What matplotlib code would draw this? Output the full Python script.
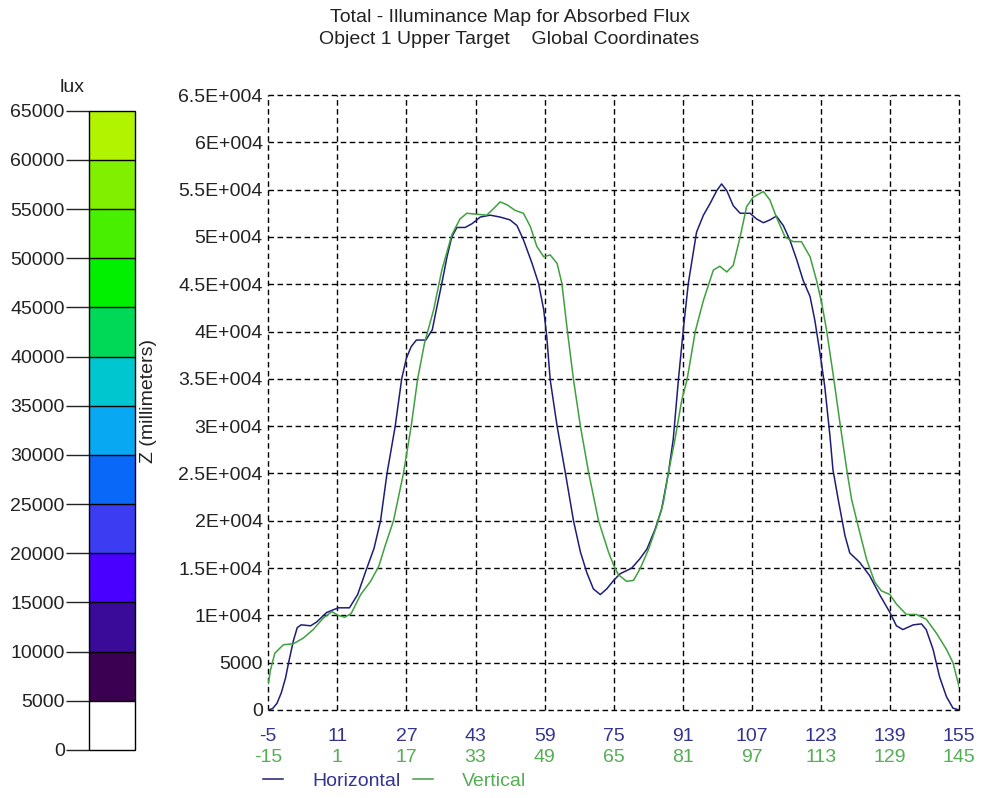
import numpy as np
import matplotlib
matplotlib.use("Agg")
import matplotlib.pyplot as plt
import matplotlib.ticker as mtick
from matplotlib.colors import ListedColormap, BoundaryNorm
from matplotlib.cm import ScalarMappable

plt.rcParams["font.family"] = ["Liberation Sans", "DejaVu Sans"]
plt.rcParams["axes.unicode_minus"] = False

# --- data --------------------------------------------------------------
# Horizontal profile (x in horizontal-axis coordinates, lux)
h_x = [-5, -4, -3, -2, -1, -0.3, 0.8, 1.7, 2.6, 4.8,
       6.2, 8.5, 11.2, 13.8, 15.7, 17.6, 19.5, 21.0, 22.5, 24.4,
       25.9, 27.0, 28.1, 29.3, 31.5, 33.0, 33.6, 35.2, 36.4, 37.5,
       38.7, 40.6, 42.2, 44.1, 46.4, 48.7, 51.0, 52.6, 54.1, 56.1,
       57.6, 58.8, 59.5, 60.3, 61.9, 63.8, 65.7, 67.3, 68.8, 70.3,
       71.9, 73.4, 75.0, 76.5, 79.2, 81.1, 82.7, 84.6, 86.1, 87.7,
       88.8, 90.0, 91.2, 92.3, 94.2, 95.8, 97.3, 98.9, 100.0, 101.2,
       102.7, 104.3, 106.6, 108.1, 109.7, 111.2, 112.7, 114.3, 115.8, 117.4,
       118.9, 120.5, 121.6, 122.8, 123.9, 125.1, 125.8, 127.0, 128.6, 129.7,
       132.0, 134.3, 136.6, 139.0, 140.5, 142.0, 144.4, 146.3, 147.4, 149.0,
       150.5, 152.1, 153.6, 155]
h_lux = [0, 150, 700, 1800, 3400, 5000, 7300, 8700, 9000, 8900,
         9300, 10300, 10800, 10800, 12200, 14700, 17100, 20000, 25000, 30000,
         35000, 37200, 38400, 39100, 39100, 40200, 41600, 45100, 47900, 50000,
         51000, 51000, 51400, 52100, 52300, 52100, 51800, 51200, 49700, 47200,
         45100, 42300, 39500, 34900, 30000, 25100, 20000, 16700, 14500, 12800,
         12200, 12800, 13700, 14400, 15000, 16000, 17000, 19100, 21200, 25100,
         28600, 34900, 40500, 45100, 50500, 52300, 53500, 54900, 55600, 54900,
         53300, 52500, 52500, 51900, 51500, 51800, 52200, 51200, 49700, 47600,
         45400, 43700, 41200, 37700, 34200, 29000, 25400, 22300, 18400, 16600,
         15600, 14200, 12200, 10300, 8900, 8500, 9000, 9100, 8500, 6400,
         3500, 1400, 200, 0]

# Vertical profile (x in vertical-axis coordinates, lux)
v_x = [-15, -14.5, -13.5, -11.5, -9.2, -6.9, -4.6, -2.3, -0.3, 1.2,
       2.7, 4.2, 6.4, 8.7, 10.6, 12.1, 14.0, 16.3, 18.1, 19.6,
       21.2, 23.3, 25.2, 27.5, 29.4, 31.0, 33.3, 35.6, 37.2, 38.7,
       40.3, 42.2, 44.1, 45.7, 47.2, 48.8, 50.3, 51.9, 53.0, 54.3,
       55.7, 57.3, 59.2, 61.5, 63.8, 65.0, 66.1, 68.0, 69.6, 71.1,
       73.1, 75.0, 76.5, 77.7, 79.2, 80.8, 82.0, 83.9, 85.8, 88.1,
       89.6, 91.2, 92.7, 94.3, 95.8, 97.3, 99.7, 101.2, 102.7, 104.7,
       106.6, 108.5, 110.5, 112.0, 113.2, 114.3, 115.9, 117.4, 119.0, 120.1,
       121.6, 123.6, 125.5, 127.0, 129.0, 130.5, 132.8, 135.1, 137.4, 139.8,
       142.1, 143.6, 145]
v_lux = [2800, 4200, 6000, 6900, 7000, 7600, 8500, 9700, 10400, 10000,
         9800, 10200, 12200, 13600, 15200, 17400, 20000, 25000, 30000, 35000,
         38800, 42300, 46500, 50200, 51900, 52500, 52400, 52300, 53000, 53700,
         53400, 52800, 52500, 51100, 49000, 47900, 48100, 47200, 45100, 40000,
         34900, 30000, 25100, 20000, 16700, 15300, 14300, 13600, 13700, 14900,
         17000, 19500, 21900, 25100, 28600, 32800, 34900, 40000, 43300, 46500,
         46900, 46300, 47000, 50000, 53200, 54200, 54800, 53900, 52100, 50000,
         49500, 49500, 47900, 45400, 43000, 40200, 35300, 30400, 25400, 22300,
         19500, 15900, 13500, 12600, 12200, 11200, 10100, 10100, 9600, 8100,
         6400, 5000, 2500]

h_ticks = [-5, 11, 27, 43, 59, 75, 91, 107, 123, 139, 155]
v_ticks = [-15, 1, 17, 33, 49, 65, 81, 97, 113, 129, 145]
y_ticks = [0, 5000, 10000, 15000, 20000, 25000, 30000, 35000, 40000,
           45000, 50000, 55000, 60000, 65000]

cb_bounds = [0, 5000, 10000, 15000, 20000, 25000, 30000, 35000, 40000,
             45000, 50000, 55000, 60000, 65000]
cb_colors = ["#ffffff", "#3c0052", "#3a0a98", "#4a00ff", "#3c3cf2",
             "#0a68f8", "#08a8f2", "#00c6d0", "#00d858", "#00f000",
             "#48f000", "#80f000", "#b2f400"]

H_LINE = "#1e1e78"
V_LINE = "#3fa03f"
H_TXT = "#34348f"
V_TXT = "#55ad55"
FS = 14

W, H = 988, 798
fig = plt.figure(figsize=(W / 100, H / 100), dpi=100)


def fx(px):
    return px / W


def fy(py):
    return 1 - py / H


# main plot
ax = fig.add_axes([fx(268.3), fy(710), fx(959) - fx(268.3), fy(95) - fy(710)])
ax.set_xlim(-5, 155)
ax.set_ylim(0, 65000)
ax.plot(h_x, h_lux, color=H_LINE, lw=1.1, label="Horizontal", zorder=3)
ax.set_xticks(h_ticks)
ax.set_yticks(y_ticks)


def yfmt(v, _):
    if v >= 10000:
        return f"{v / 1e4:g}E+004"
    return f"{int(v)}"


ax.yaxis.set_major_formatter(mtick.FuncFormatter(yfmt))
ax.tick_params(axis="y", length=0, pad=4, labelsize=FS, colors="#222222")
ax.tick_params(axis="x", length=0, pad=13, labelsize=FS, labelcolor=H_TXT)
ax.grid(True, color="black", lw=1.0, ls=(0, (4, 2.5)))
for sp in ax.spines.values():
    sp.set_visible(False)
for gl in ax.get_xgridlines() + ax.get_ygridlines():
    gl.set_clip_on(False)

ax2 = ax.twiny()
ax2.set_xlim(-15, 145)
ax2.plot(v_x, v_lux, color=V_LINE, lw=1.1, label="Vertical", zorder=3)
ax2.set_xticks(v_ticks)
ax2.xaxis.set_ticks_position("bottom")
ax2.xaxis.set_label_position("bottom")
ax2.tick_params(axis="x", length=0, pad=28, labelsize=FS, labelcolor=V_TXT)
for sp in ax2.spines.values():
    sp.set_visible(False)

handles = [ax.get_lines()[0], ax2.get_lines()[0]]
leg = ax.legend(handles, ["Horizontal", "Vertical"], loc="center left",
                bbox_to_anchor=(fx(263), fy(781)), bbox_transform=fig.transFigure,
                ncol=2, frameon=False, fontsize=FS, handlelength=1.05,
                handletextpad=1.5, columnspacing=0.6, borderpad=0,
                borderaxespad=0, labelcolor=[H_TXT, V_TXT])
for ln in leg.get_lines():
    ln.set_linewidth(1.1)

# colour bar
cax = fig.add_axes([fx(89), fy(750), fx(135) - fx(89), fy(110.7) - fy(750)])
cmap = ListedColormap(cb_colors)
norm = BoundaryNorm(cb_bounds, cmap.N)
cb = fig.colorbar(ScalarMappable(norm=norm, cmap=cmap), cax=cax,
                  ticks=cb_bounds, drawedges=True, ticklocation="left")
cb.outline.set_linewidth(1.0)
cb.outline.set_edgecolor("black")
cb.dividers.set_color("black")
cb.dividers.set_linewidth(1.0)
cb.ax.tick_params(length=16.5, width=1.0, pad=1, labelsize=FS, colors="#222222")
cb.ax.yaxis.set_major_formatter(mtick.FuncFormatter(lambda v, _: f"{int(v)}"))

fig.text(fx(72), fy(87), "lux", ha="center", va="center", fontsize=FS, color="#222222")
fig.text(fx(148), fy(401), "Z (millimeters)", ha="center", va="center",
         rotation=90, fontsize=FS, color="#222222")

fig.text(fx(510), fy(17), "Total - Illuminance Map for Absorbed Flux",
         ha="center", va="center", fontsize=FS, color="#222222")
fig.text(fx(509), fy(40), "Object 1 Upper Target    Global Coordinates",
         ha="center", va="center", fontsize=FS, color="#222222")

fig.savefig("out.png", dpi=100)
plt.close(fig)
